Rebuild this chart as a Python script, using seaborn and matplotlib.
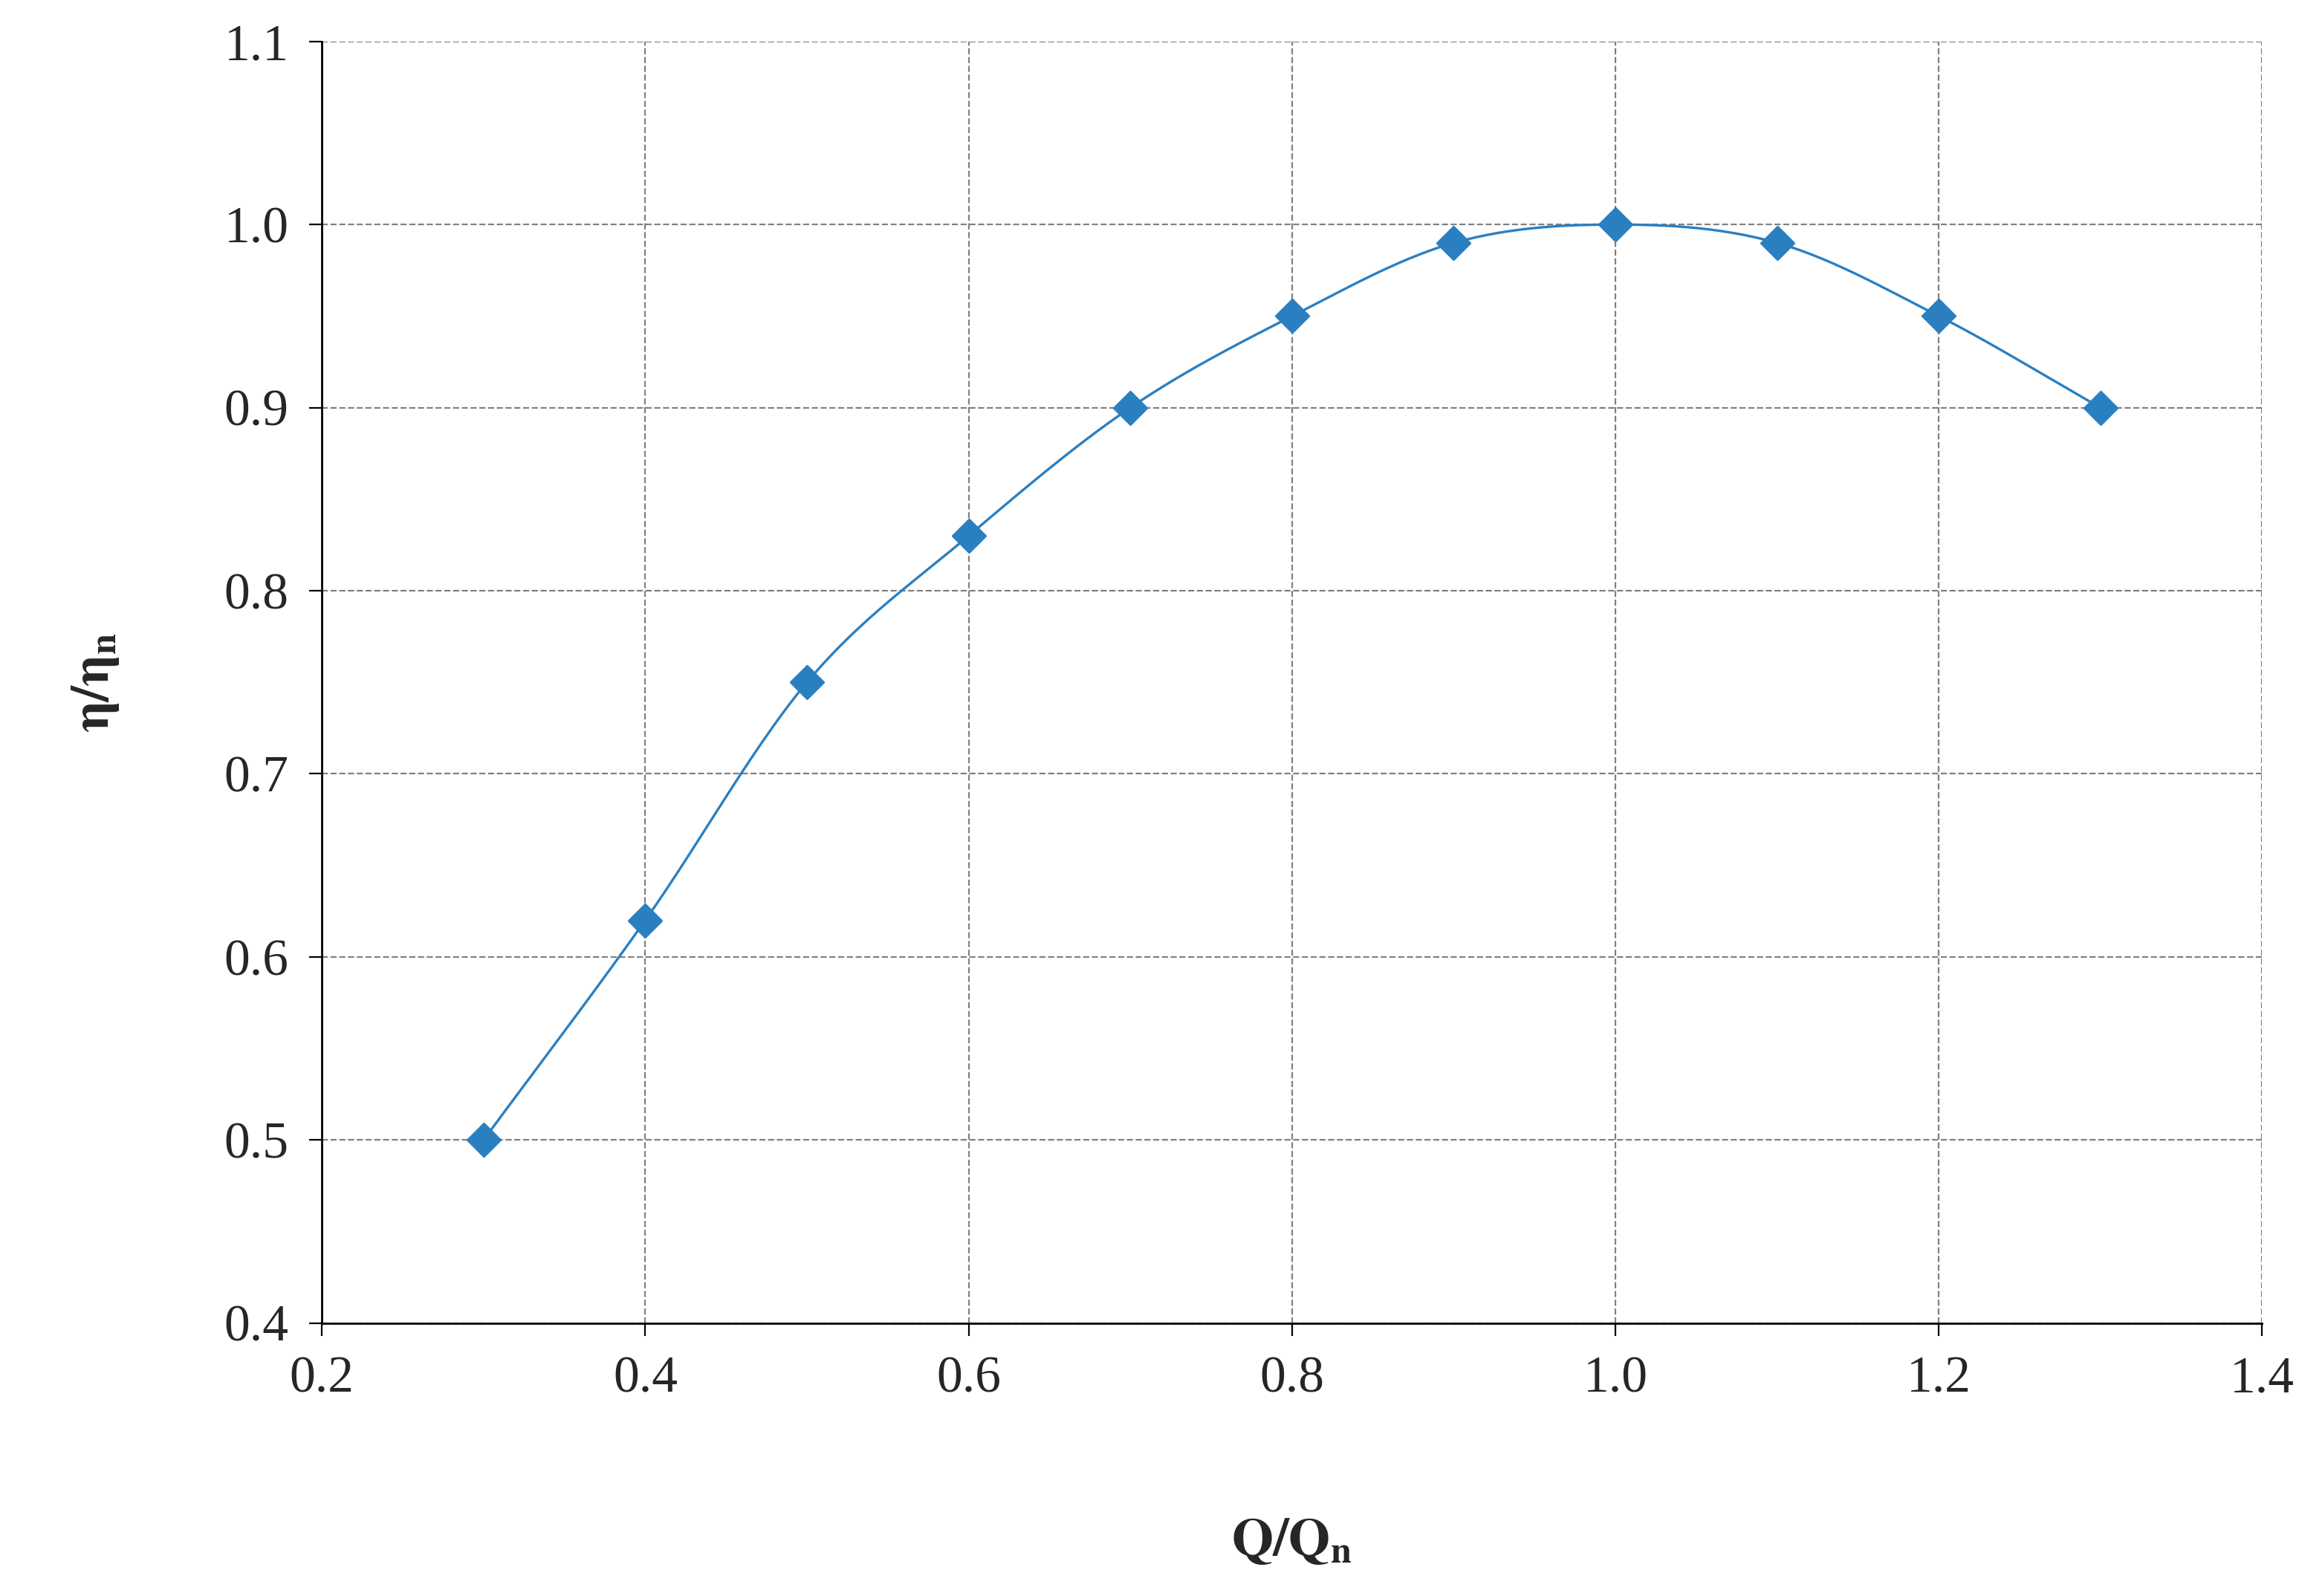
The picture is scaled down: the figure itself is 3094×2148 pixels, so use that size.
import numpy as np
import pandas as pd
import matplotlib
matplotlib.use("Agg")
import matplotlib.pyplot as plt
import seaborn as sns

q_ratio = [0.3, 0.4, 0.5, 0.6, 0.7, 0.8, 0.9, 1.0, 1.1, 1.2, 1.3]
eta_ratio = [0.50, 0.62, 0.75, 0.83, 0.90, 0.95, 0.99, 1.00, 0.99, 0.95, 0.90]

sns.set_style("white")
plt.rcParams['font.family'] = ['Liberation Serif', 'DejaVu Serif']
plt.rcParams['mathtext.fontset'] = 'stix'

blue = '#2a7fc1'


def smooth(x, y, n=30):
    # Catmull-Rom spline, like Excel's smoothed line
    x = np.asarray(x, float)
    y = np.asarray(y, float)
    px = np.concatenate([[2 * x[0] - x[1]], x, [2 * x[-1] - x[-2]]])
    py = np.concatenate([[2 * y[0] - y[1]], y, [2 * y[-1] - y[-2]]])
    xs, ys = [], []
    t = np.linspace(0, 1, n)
    for i in range(1, len(px) - 2):
        for p, out in ((px, xs), (py, ys)):
            p0, p1, p2, p3 = p[i - 1], p[i], p[i + 1], p[i + 2]
            out.append(0.5 * ((2 * p1) + (-p0 + p2) * t
                              + (2 * p0 - 5 * p1 + 4 * p2 - p3) * t ** 2
                              + (-p0 + 3 * p1 - 3 * p2 + p3) * t ** 3))
    return np.concatenate(xs), np.concatenate(ys)


fig, ax = plt.subplots(figsize=(15.47, 10.74), dpi=200)
fig.subplots_adjust(left=0.14, right=0.984, top=0.974, bottom=0.171)

sx, sy = smooth(q_ratio, eta_ratio)
ax.plot(sx, sy, color=blue, linewidth=1.2)
df = pd.DataFrame({'q': q_ratio, 'eta': eta_ratio})
sns.scatterplot(data=df, x='q', y='eta', marker='D', s=130, color=blue,
                edgecolor=blue, ax=ax, zorder=3)

ax.set_xlim(0.2, 1.4)
ax.set_ylim(0.4, 1.1)
ax.set_xticks(np.arange(0.2, 1.41, 0.2))
ax.set_yticks(np.arange(0.4, 1.11, 0.1))
ax.xaxis.set_major_formatter(matplotlib.ticker.FormatStrFormatter('%.1f'))
ax.yaxis.set_major_formatter(matplotlib.ticker.FormatStrFormatter('%.1f'))
ax.grid(True, color='#808080', linestyle='--', linewidth=0.8)
for side in ['top', 'right']:
    ax.spines[side].set_visible(False)
for side in ['left', 'bottom']:
    ax.spines[side].set_color('black')
    ax.spines[side].set_linewidth(1)
ax.tick_params(axis='both', labelsize=25, direction='out', length=6,
               left=True, bottom=True, color='black', pad=10)

ax.set_xlabel(r'$\mathbf{Q/Q_n}$', fontsize=26, labelpad=55)
ax.set_ylabel(r'$\mathbf{\eta/\eta_n}$', fontsize=26, labelpad=50)

fig.savefig('out.png', dpi=200)
